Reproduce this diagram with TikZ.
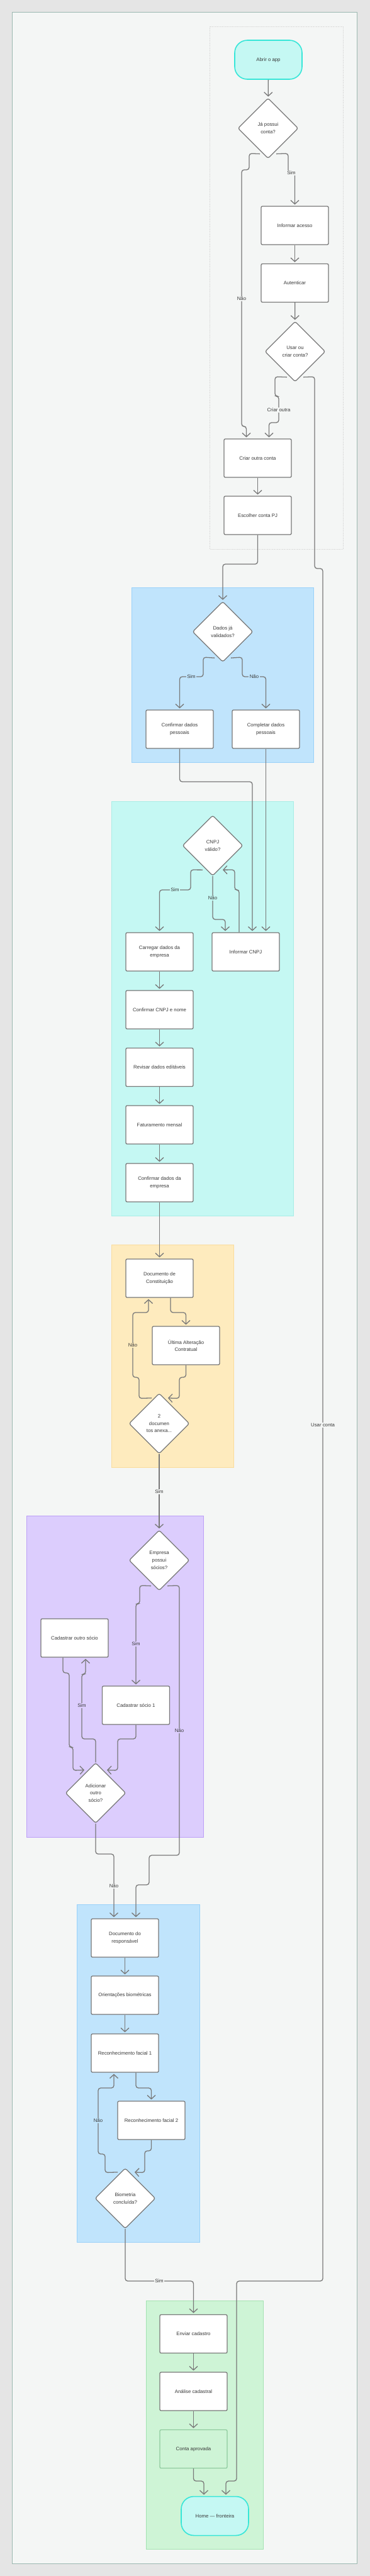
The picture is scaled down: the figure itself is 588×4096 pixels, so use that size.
\documentclass[tikz,border=0pt]{standalone}
\usepackage{fontspec}
\setmainfont{Liberation Sans}
\usetikzlibrary{shapes.geometric,arrows.meta}
\definecolor{pagebg}{HTML}{E5E5E5}
\definecolor{panel}{HTML}{F4F6F5}
\definecolor{frame}{HTML}{9CB9B1}
\definecolor{edge}{HTML}{787878}
\definecolor{txt}{HTML}{3A3A3A}
\definecolor{bluefill}{HTML}{C0E4FC}
\definecolor{blueline}{HTML}{99D1F9}
\definecolor{cyanfill}{HTML}{C5F8F3}
\definecolor{cyanline}{HTML}{A8EDE6}
\definecolor{cyanterm}{HTML}{36E6D8}
\definecolor{yellowfill}{HTML}{FEEBBE}
\definecolor{yellowline}{HTML}{FADC9C}
\definecolor{purplefill}{HTML}{DCCDFD}
\definecolor{purpleline}{HTML}{BC9FF7}
\definecolor{greenfill}{HTML}{CEF4D6}
\definecolor{greenline}{HTML}{A4E2B2}
\definecolor{greenbox}{HTML}{8FCB9E}

\begin{document}
\begin{tikzpicture}[x=1pt,y=-1pt,
    every node/.style={font=\fontsize{7.8}{11.7}\selectfont,text=txt},
    box/.style={draw=edge,fill=white,line width=1.3pt,rounded corners=2pt,minimum width=107pt,minimum height=61pt,align=center,inner sep=2pt},
    dec/.style={diamond,draw=edge,fill=white,line width=1.3pt,rounded corners=3pt,minimum width=96pt,minimum height=96pt,inner sep=0pt,align=center},
    term/.style={box,fill=cyanfill,draw=cyanterm,line width=1.6pt,rounded corners=20pt,minimum height=62pt},
    link/.style={draw=edge,line width=1.3pt,rounded corners=4pt,-{Straight Barb[length=6pt,width=13pt]},shorten >=2pt},
    lbl/.style={fill=panel,inner sep=1.5pt}]
              \useasboundingbox (0,0) rectangle (588,4096);
              \fill[pagebg] (0,0) rectangle (588,4096);
              \draw[frame,fill=panel,line width=0.8pt] (19,19) rectangle (567,4076);
              \draw[black!15,densely dotted,line width=0.6pt] (333,42) rectangle (545,873);
              \draw[blueline,fill=bluefill,line width=0.6pt] (209,934) rectangle (498,1212);
              \draw[cyanline,fill=cyanfill,line width=0.6pt] (177,1274) rectangle (466,1933);
              \draw[yellowline,fill=yellowfill,line width=0.6pt] (177,1979) rectangle (371,2333);
              \draw[purpleline,fill=purplefill,line width=0.6pt] (42,2410) rectangle (323,2921);
              \draw[blueline,fill=bluefill,line width=0.6pt] (122,3028) rectangle (317,3565);
              \draw[greenline,fill=greenfill,line width=0.6pt] (232,3658) rectangle (418,4053);

              \node[term] (start) at (426.5,95) {Abrir o app};
              \node[dec] (d1) at (426,204) {Já possui\\conta?};
              \node[box] (acesso) at (468.5,358.5) {Informar acesso};
              \node[box] (autent) at (468.5,450) {Autenticar};
              \node[dec] (d2) at (469,559) {Usar ou\\criar conta?};
              \node[box] (criar) at (409.5,728.5) {Criar outra conta};
              \node[box] (pj) at (409.5,819.5) {Escolher conta PJ};
              \node[dec] (d3) at (354,1004.5) {Dados já\\validados?};
              \node[box] (confp) at (285.5,1159.5) {Confirmar dados\\pessoais};
              \node[box] (compp) at (422.5,1159.5) {Completar dados\\pessoais};
              \node[dec] (d4) at (338,1344.5) {CNPJ\\válido?};
              \node[box] (carregar) at (253.5,1513.5) {Carregar dados da\\empresa};
              \node[box] (infcnpj) at (390.5,1513.5) {Informar CNPJ};
              \node[box] (confcnpj) at (253.5,1605.5) {Confirmar CNPJ e nome};
              \node[box] (revisar) at (253.5,1697) {Revisar dados editáveis};
              \node[box] (fatur) at (253.5,1788.5) {Faturamento mensal};
              \node[box] (confemp) at (253.5,1880.5) {Confirmar dados da\\empresa};
              \node[box] (docc) at (253.5,2032.5) {Documento de\\Constituição};
              \node[box] (ultima) at (295.5,2139.5) {Última Alteração\\Contratual};
              \node[dec] (d5) at (253,2263.5) {2\\documen\\tos anexa...};
              \node[dec] (d6) at (253,2481) {Empresa\\possui\\sócios?};
              \node[box] (outro) at (118.5,2604.5) {Cadastrar outro sócio};
              \node[box] (socio1) at (216,2711.5) {Cadastrar sócio 1};
              \node[dec] (d7) at (152,2851) {Adicionar\\outro\\sócio?};
              \node[box] (docr) at (198.5,3081.5) {Documento do\\responsável};
              \node[box] (orient) at (198.5,3172.5) {Orientações biométricas};
              \node[box] (rf1) at (198.5,3264.5) {Reconhecimento facial 1};
              \node[box] (rf2) at (240.5,3371.5) {Reconhecimento facial 2};
              \node[dec] (d8) at (199,3495.5) {Biometria\\concluída?};
              \node[box] (enviar) at (307.5,3711) {Enviar cadastro};
              \node[box] (analise) at (307.5,3802.5) {Análise cadastral};
              \node[box,fill=greenfill,draw=greenbox] (aprov) at (307.5,3894) {Conta aprovada};
              \node[term] (home) at (341.5,4000.5) {Home — fronteira};

              \draw[link] (start) -- (d1);
              \draw[link] ([shift={(13,-8)}]d1.south) -- (458,244) -- (458,275) -- (468.5,275) -- (acesso.north);
              \draw[link] ([shift={(-13,-8)}]d1.south) -- (396,244) -- (396,270) -- (384,270) -- (384,678) -- (391.5,678) -- ([xshift=-18pt]criar.north);
              \draw[link] (acesso) -- (autent);
              \draw[link] (autent) -- (d2);
              \draw[link] ([shift={(-13,-8)}]d2.south) -- (437,599) -- (437,630) -- (443,630) -- (443,672) -- (427.5,672) -- ([xshift=18pt]criar.north);
              \draw[link] ([shift={(13,-8)}]d2.south) -- (500,599) -- (500,904) -- (513,904) -- (513,3627) -- (376,3627) -- (376,3945) -- (359,3945) -- ([xshift=17.5pt]home.north);
              \draw[link] (criar) -- (pj);
              \draw[link] (pj.south) -- (409.5,897) -- (354,897) -- (d3.north);
              \draw[link] ([shift={(-13,-7)}]d3.south) -- (323,1045) -- (323,1076) -- (285.5,1076) -- (confp.north);
              \draw[link] ([shift={(13,-7)}]d3.south) -- (385,1045) -- (385,1076) -- (422.5,1076) -- (compp.north);
              \draw[link] (confp.south) -- (285.5,1243) -- (401,1243) -- ([xshift=10.5pt]infcnpj.north);
              \draw[link] (compp.south) -- ([xshift=32pt]infcnpj.north);
              \draw[link] ([shift={(-16,-10)}]d4.south) -- (303,1383) -- (303,1415) -- (253.5,1415) -- (carregar.north);
              \draw[link] (d4.south) -- (338,1462) -- (358,1462) -- ([xshift=-32.5pt]infcnpj.north);
              \draw[link] ([xshift=-10.5pt]infcnpj.north) -- (380,1415) -- (373,1415) -- (373,1383) -- ([shift={(14,-10)}]d4.south);
              \draw[link] (carregar) -- (confcnpj);
              \draw[link] (confcnpj) -- (revisar);
              \draw[link] (revisar) -- (fatur);
              \draw[link] (fatur) -- (confemp);
              \draw[link] (confemp) -- (docc);
              \draw[link] ([xshift=17.5pt]docc.south) -- (271,2087) -- (295.5,2087) -- (ultima.north);
              \draw[link] (ultima.south) -- (295.5,2190) -- (285,2190) -- (285,2223.5) -- ([shift={(12,8)}]d5.north);
              \draw[link] ([shift={(-12,8)}]d5.north) -- (221,2223.5) -- (221,2190) -- (211,2190) -- (211,2087) -- (236,2087) -- ([xshift=-17.5pt]docc.south);
              \draw[link] (d5) -- (d6);
              \draw[link] ([shift={(-13,-8)}]d6.south) -- (222,2521) -- (222,2550) -- (216,2550) -- (socio1.north);
              \draw[link] ([shift={(13,-8)}]d6.south) -- (285,2521) -- (285,2950) -- (237,2950) -- (237,2997) -- (216,2997) -- ([xshift=17.5pt]docr.north);
              \draw[link] ([xshift=-18.5pt]outro.south) -- (100,2660) -- (110,2660) -- (110,2778) -- (116,2778) -- (116,2815) -- ([shift={(-16,12)}]d7.north);
              \draw[link] (d7.north) -- (152,2765) -- (130,2765) -- (130,2662) -- (136,2662) -- ([xshift=17.5pt]outro.south);
              \draw[link] (socio1.south) -- (216,2765) -- (187,2765) -- (187,2815) -- ([shift={(16,12)}]d7.north);
              \draw[link] (d7.south) -- (152,2948) -- (181,2948) -- ([xshift=-17.5pt]docr.north);
              \draw[link] (docr) -- (orient);
              \draw[link] (orient) -- (rf1);
              \draw[link] ([xshift=17.5pt]rf1.south) -- (216,3320) -- (240.5,3320) -- (rf2.north);
              \draw[link] (rf2.south) -- (240.5,3420) -- (230,3420) -- (230,3454.5) -- ([shift={(13,7)}]d8.north);
              \draw[link] ([shift={(-12,7)}]d8.north) -- (167,3454.5) -- (167,3425) -- (156,3425) -- (156,3320) -- (181,3320) -- ([xshift=-17.5pt]rf1.south);
              \draw[link] (d8.south) -- (199,3627) -- (307.5,3627) -- (enviar.north);
              \draw[link] (enviar) -- (analise);
              \draw[link] (analise) -- (aprov);
              \draw[link] (aprov.south) -- (307.5,3945) -- (324,3945) -- ([xshift=-17.5pt]home.north);

              \node[lbl] (l1) at (463,275) {Sim};
              \node[lbl] (l2) at (384,475) {Não};
              \node[lbl] (l3) at (443,652) {Criar outra};
              \node[lbl] (l4) at (513,2266) {Usar conta};
              \node[lbl,fill=bluefill] (l5) at (304,1076) {Sim};
              \node[lbl,fill=bluefill] (l6) at (404,1076) {Não};
              \node[lbl,fill=cyanfill] (l7) at (278,1415) {Sim};
              \node[lbl,fill=cyanfill] (l8) at (338,1428) {Não};
              \node[lbl,fill=yellowfill] (l9) at (211,2139) {Não};
              \node[lbl] (l10) at (253,2372) {Sim};
              \node[lbl,fill=purplefill] (l11) at (216,2614) {Sim};
              \node[lbl,fill=purplefill] (l12) at (285,2752) {Não};
              \node[lbl,fill=purplefill] (l13) at (130,2712) {Sim};
              \node[lbl] (l14) at (181,2999) {Não};
              \node[lbl,fill=bluefill] (l15) at (156,3372) {Não};
              \node[lbl] (l16) at (253,3627) {Sim};
        \end{tikzpicture}
\end{document}
